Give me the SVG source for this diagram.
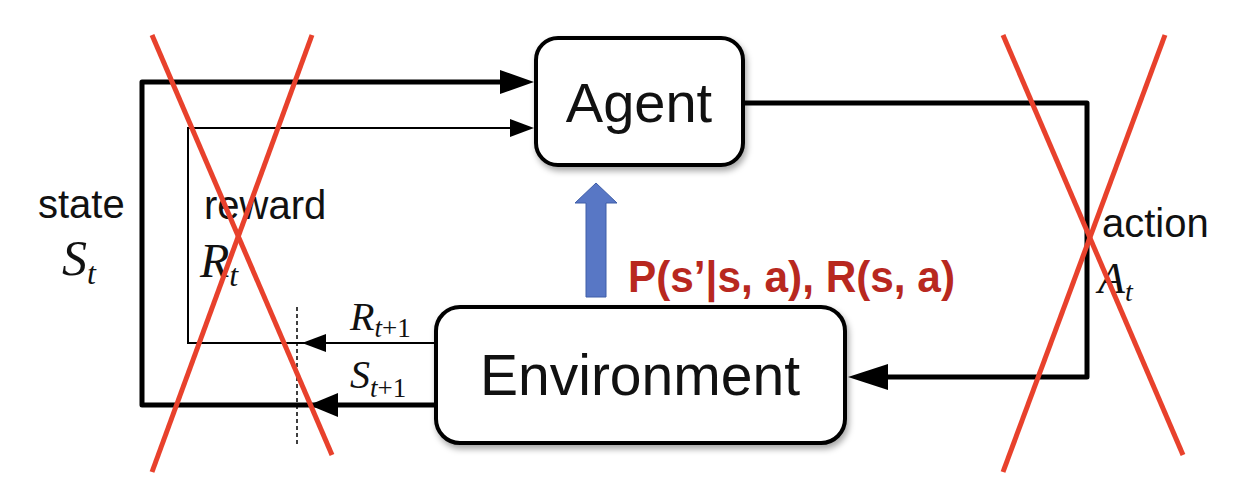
<svg xmlns="http://www.w3.org/2000/svg" width="1240" height="496" viewBox="0 0 1240 496">
<style>
.lbl{font-family:"Liberation Sans",Arial,sans-serif;font-size:40px;fill:#111}
.math{font-family:"Liberation Serif","Times New Roman",serif;font-style:italic;fill:#111}
.box{fill:#fff;stroke:#000;stroke-width:4}
.thick{fill:none;stroke:#000;stroke-width:5;stroke-linejoin:round}
.thin{fill:none;stroke:#000;stroke-width:2}
.cross{stroke:#E8412C;stroke-width:5;stroke-linecap:butt}
</style>
<defs>
<filter id="sh" x="-10%" y="-10%" width="130%" height="140%">
<feDropShadow dx="2" dy="4" stdDeviation="3" flood-color="#000" flood-opacity="0.35"/>
</filter>
</defs>
<rect width="1240" height="496" fill="#fff"/>
<g id="connectors">
<polyline class="thick" points="437,405 142,405 142,82 500,82"/>
<polygon points="500,70 534,82 500,94" fill="#000"/>
<polyline class="thin" points="437,343 188,343 188,128 510,128"/>
<polygon points="510,119 534,128 510,137" fill="#000"/>
<polygon points="302,343 326,334 326,352" fill="#000"/>
<polygon points="309,405 338,393 338,417" fill="#000"/>
<polyline class="thick" points="743,103 1087,103 1087,377 888,377"/>
<polygon points="888,364 848,377 888,390" fill="#000"/>
<line x1="297" y1="307" x2="297" y2="446" stroke="#000" stroke-width="1.5" stroke-dasharray="4,3"/>
<polygon points="586,297 606,297 606,203 617,203 596,183 575,203 586,203" fill="#5877C5" stroke="#3F5EA8" stroke-width="1"/>
</g>
<g id="agent">
<rect class="box" x="536" y="38" width="207" height="127" rx="22" filter="url(#sh)"/>
<text x="639" y="122" text-anchor="middle" font-family="Liberation Sans, Arial, sans-serif" font-size="56" fill="#111">Agent</text>
</g>
<g id="environment">
<rect class="box" x="436" y="307" width="409" height="136" rx="24" filter="url(#sh)"/>
<text x="640" y="395" text-anchor="middle" font-family="Liberation Sans, Arial, sans-serif" font-size="57" fill="#111">Environment</text>
</g>
<g id="labels">
<text class="lbl" x="38" y="218">state</text>
<text class="math" x="62" y="275" font-size="50">S<tspan font-size="32" dy="9">t</tspan></text>
<text class="lbl" x="204" y="219">reward</text>
<text class="math" x="200" y="277" font-size="48">R<tspan font-size="32" dy="9">t</tspan></text>
<text class="lbl" x="1102" y="237">action</text>
<text class="math" x="1098" y="293" font-size="44">A<tspan font-size="28" dy="8">t</tspan></text>
<text class="math" x="350" y="330" font-size="40">R<tspan font-size="27" dy="7" font-style="italic">t</tspan><tspan font-size="27" font-style="normal">+1</tspan></text>
<text class="math" x="350" y="388" font-size="40">S<tspan font-size="27" dy="9" font-style="italic">t</tspan><tspan font-size="27" font-style="normal">+1</tspan></text>
<text x="628" y="292" font-family="Liberation Sans, Arial, sans-serif" font-weight="bold" font-size="45" fill="#B8281F" textLength="327" lengthAdjust="spacingAndGlyphs">P(s’|s, a), R(s, a)</text>
</g>
<g id="crosses">
<line class="cross" x1="152" y1="35" x2="332" y2="455"/>
<line class="cross" x1="312" y1="35" x2="152" y2="472"/>
<line class="cross" x1="1003" y1="35" x2="1183" y2="455"/>
<line class="cross" x1="1165" y1="35" x2="1003" y2="472"/>
</g>
</svg>
